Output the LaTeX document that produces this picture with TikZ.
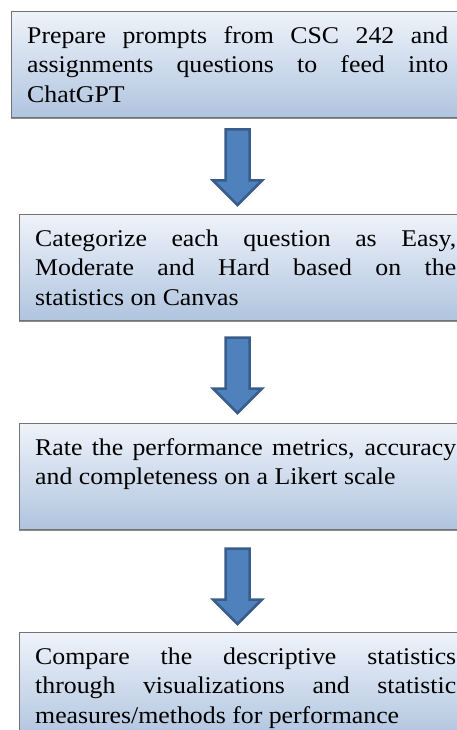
\documentclass[tikz,border=0pt]{standalone}
\usepackage{fontspec}
\setmainfont{Liberation Serif}[FakeStretch=1.075]
\usetikzlibrary{shapes.arrows,shadows}

\definecolor{arrowblue}{HTML}{4F81BD}
\definecolor{arrowedge}{HTML}{385D8A}
\definecolor{boxtop}{HTML}{EEF3FA}
\definecolor{boxbottom}{HTML}{B0C4DF}

\hyphenpenalty=10000
\tolerance=10000

\tikzset{
  stepbox/.style={rectangle, draw=black!55, line width=0.9pt,
    top color=boxtop, bottom color=boxbottom,
    minimum width=460pt, minimum height=106pt, inner sep=0pt, anchor=north west,
    drop shadow={shadow xshift=0pt, shadow yshift=-1.2pt, fill=black!45, opacity=1}},
  steptext/.style={text width=421pt, inner sep=0pt, anchor=base west, align=justify,
    font=\fontsize{24}{29.6}\selectfont},
  downarrow/.style={single arrow, draw=arrowedge, fill=arrowblue, line width=2.5pt,
    shape border rotate=270, inner sep=10.75pt, minimum height=75.5pt,
    single arrow head extend=12.5pt, anchor=tail}
}

\begin{document}
\begin{tikzpicture}[x=1pt,y=-1pt]
    \clip (0,0) rectangle (457,730);

    % Step 1
    \node[stepbox] (box1) at (11,11) {};
    \node[steptext] (txt1) at ([xshift=16pt,yshift=-32.3pt]box1.north west)
      {Prepare prompts from CSC 242 and\linebreak assignments questions to feed into\linebreak ChatGPT};

    % Step 2
    \node[stepbox] (box2) at (19,214) {};
    \node[steptext] (txt2) at ([xshift=16pt,yshift=-32.3pt]box2.north west)
      {Categorize each question as Easy,\linebreak Moderate and Hard based on the\linebreak statistics on Canvas};

    % Step 3
    \node[stepbox] (box3) at (19,423) {};
    \node[steptext] (txt3) at ([xshift=16pt,yshift=-32.3pt]box3.north west)
      {Rate the performance metrics, accuracy\linebreak and completeness on a Likert scale};

    % Step 4
    \node[stepbox] (box4) at (19,632) {};
    \node[steptext] (txt4) at ([xshift=16pt,yshift=-32.3pt]box4.north west)
      {Compare the descriptive statistics\linebreak through visualizations and statistic\linebreak measures/methods for performance};

    % Arrows between the steps
    \node[downarrow] (arr1) at (237.5,128.25) {};
    \node[downarrow] (arr2) at (237.5,336.25) {};
    \node[downarrow] (arr3) at (237.5,547.25) {};
\end{tikzpicture}
\end{document}
